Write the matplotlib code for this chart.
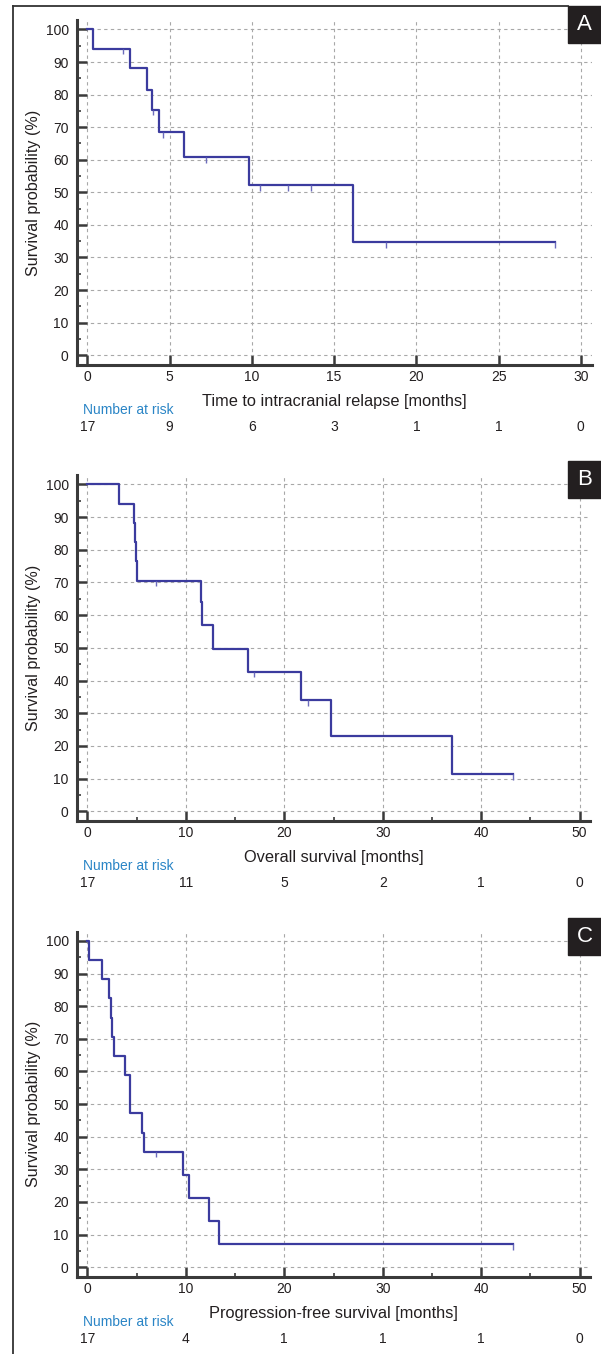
"""
Kaplan-Meier curves, three panels (A: intracranial relapse, B: overall
survival, C: progression-free survival) with numbers at risk.
"""

import numpy as np
import matplotlib
matplotlib.use("Agg")
import matplotlib.pyplot as plt
from matplotlib.patches import Rectangle
from matplotlib.lines import Line2D

plt.rcParams["font.family"] = ["Liberation Sans Narrow", "Liberation Sans", "DejaVu Sans"]

# Panel A - time to intracranial relapse (months / survival %)
A_event_t = [0.33, 2.60, 3.63, 3.93, 4.34, 5.88, 9.80, 16.13]
A_surv = [100, 94.1, 88.2, 81.5, 75.3, 68.5, 60.7, 52.1, 34.7]
A_cens = [2.19, 4.0, 4.6, 7.2, 10.5, 12.18, 13.62, 18.16, 28.43]
A_end = 28.43
A_risk_t = [0, 5, 10, 15, 20, 25, 30]
A_risk = [17, 9, 6, 3, 1, 1, 0]

# Panel B - overall survival
B_event_t = [3.25, 4.77, 4.87, 4.97, 5.05, 11.5, 11.67, 12.76, 16.35, 21.66, 24.77, 37.06]
B_surv = [100, 94.1, 88.2, 82.4, 76.5, 70.6, 64.0, 57.1, 49.7, 42.7, 34.0, 22.9, 11.4]
B_cens = [7.0, 16.9, 22.4, 43.2]
B_end = 43.2
B_risk_t = [0, 10, 20, 30, 40, 50]
B_risk = [17, 11, 5, 2, 1, 0]

# Panel C - progression-free survival
C_event_t = [0.2, 1.52, 2.17, 2.37, 2.54, 2.7, 3.84, 4.33, 5.55, 5.79, 9.74, 10.32, 12.35, 13.33]
C_surv = [100, 94.1, 88.2, 82.4, 76.5, 70.6, 64.7, 58.9, 47.2, 41.2, 35.4, 28.4, 21.3, 14.2, 7.1]
C_cens = [7.0, 43.2]
C_end = 43.2
C_risk_t = [0, 10, 20, 30, 40, 50]
C_risk = [17, 4, 1, 1, 1, 0]

W, H = 601, 1354
LINE = "#3b3b9e"
CENS = "#6c6cbc"
AXC = "#3a3a3a"
TXT = "#231f20"
BLUE = "#2a85c6"


def draw_panel(ax, event_t, surv, cens, end, risk_t, risk, xlim, xmajor, xminor,
               xlabel, letter):
    xs = [0] + list(event_t) + [end]
    ys = list(surv) + [surv[-1]]
    ax.step(xs, ys, where="post", color=LINE, lw=1.6, zorder=3)
    for c in cens:
        lvl = surv[np.searchsorted(event_t, c, side="right")]
        ax.vlines(c, lvl - 1.7, lvl, color=CENS, lw=1.0, zorder=3)

    ax.set_xlim(*xlim)
    ax.set_ylim(-3.0, 102.9)
    ax.set_yticks(range(0, 101, 10))
    ax.set_yticks(range(5, 100, 10), minor=True)
    ax.set_xticks(xmajor)
    ax.set_xticks(xminor, minor=True)
    for s in ["top", "right"]:
        ax.spines[s].set_visible(False)
    for s in ["left", "bottom"]:
        ax.spines[s].set_linewidth(2.2)
        ax.spines[s].set_color(AXC)
    ax.tick_params(which="major", direction="in", length=7.2, width=1.8,
                   color=AXC, labelsize=10, labelcolor=TXT)
    ax.tick_params(axis="x", which="major", pad=3.5)
    ax.tick_params(axis="y", which="major", pad=6)
    ax.tick_params(which="minor", direction="in", length=3.2, width=1.2, color=AXC)
    ax.grid(which="major", ls=(0, (3, 3)), color="#a8a8a8", lw=0.8)
    ax.set_axisbelow(True)

    fig = ax.figure
    pos = ax.get_position()
    fig.text(33.5 / W, (pos.y0 + pos.y1) / 2, "Survival probability (%)",
             rotation=90, ha="center", va="center", fontsize=11.6, color=TXT)
    ax.annotate(xlabel, xy=(0.5, 0), xycoords="axes fraction",
                xytext=(0, -26.5), textcoords="offset points",
                ha="center", va="center", fontsize=11.8, color=TXT)
    ax.annotate("Number at risk", xy=(0, 0), xycoords=("data", "axes fraction"),
                xytext=(-3.2, -32.6), textcoords="offset points",
                ha="left", va="center", fontsize=10, color=BLUE)
    for t, n in zip(risk_t, risk):
        ax.annotate(str(n), xy=(t, 0), xycoords=("data", "axes fraction"),
                    xytext=(0, -44.6), textcoords="offset points",
                    ha="center", va="center", fontsize=10, color=TXT)

    # black letter box at the right edge
    by0 = pos.y1 - 23 / H
    fig.add_artist(Rectangle((568 / W, by0), 33 / W, 37 / H,
                             transform=fig.transFigure, color=TXT, zorder=5))
    fig.text(584.5 / W, by0 + 18.5 / H, letter, color="white", fontsize=16,
             ha="center", va="center", zorder=6)


fig = plt.figure(figsize=(W / 100, H / 100), dpi=100)

ax_a = fig.add_axes([77 / W, 1 - 365 / H, 515 / W, 345 / H])
ax_b = fig.add_axes([77 / W, 1 - 821 / H, 513 / W, 346 / H])
ax_c = fig.add_axes([77 / W, 1 - 1277 / H, 513 / W, 345.5 / H])

draw_panel(ax_a, A_event_t, A_surv, A_cens, A_end, A_risk_t, A_risk,
           (-0.63, 30.68), range(0, 31, 5), [],
           "Time to intracranial relapse [months]", "A")
draw_panel(ax_b, B_event_t, B_surv, B_cens, B_end, B_risk_t, B_risk,
           (-1.05, 51.05), range(0, 51, 10), range(5, 50, 10),
           "Overall survival [months]", "B")
draw_panel(ax_c, C_event_t, C_surv, C_cens, C_end, C_risk_t, C_risk,
           (-1.05, 51.05), range(0, 51, 10), range(5, 50, 10),
           "Progression-free survival [months]", "C")

# outer frame: left rule and top rule
fig.add_artist(Line2D([12.5 / W, 12.5 / W], [0, 1 - 6 / H], transform=fig.transFigure,
                      color="#333333", lw=1.3))
fig.add_artist(Line2D([12.5 / W, 568 / W], [1 - 6 / H, 1 - 6 / H], transform=fig.transFigure,
                      color="#333333", lw=1.3))

fig.savefig("out.png", dpi=100)
